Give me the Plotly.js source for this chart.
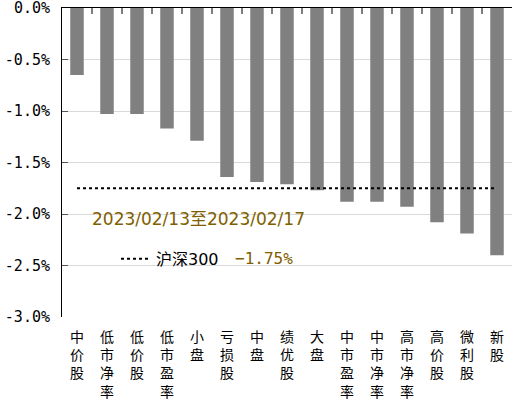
<!DOCTYPE html>
<html>
<head>
<meta charset="utf-8">
<script src="https://cdn.plot.ly/plotly-3.0.1.min.js"></script>
<style>html,body{margin:0;padding:0;background:#fff;}#chart{width:513px;height:406px;}</style>
</head>
<body>
<div id="chart"></div>
<script>
const categories = ["中价股","低市净率","低价股","低市盈率","小盘","亏损股","中盘","绩优股","大盘","中市盈率","中市净率","高市净率","高价股","微利股","新股"];
const weeklyReturn = [-0.65,-1.03,-1.03,-1.17,-1.29,-1.64,-1.69,-1.71,-1.77,-1.88,-1.88,-1.93,-2.08,-2.19,-2.40];
const benchmarkName = "沪深300";
const benchmarkValue = -1.75;
const periodLabel = "2023/02/13至2023/02/17";
const yTicks = [0,-0.5,-1.0,-1.5,-2.0,-2.5,-3.0];
const yTickText = ["0.0%","-0.5%","-1.0%","-1.5%","-2.0%","-2.5%","-3.0%"];

const verticalLabels = categories.map(c => c.split('').join('<br>'));
const olive = '#7f6000';

const traces = [
  {
    type: 'bar', x: categories, y: weeklyReturn,
    marker: {color: '#808080', line: {width: 0}},
    width: 0.45, showlegend: false, hoverinfo: 'skip'
  },
  {
    type: 'scatter', mode: 'lines', xaxis: 'x2', yaxis: 'y',
    x: [0, categories.length - 1], y: [benchmarkValue, benchmarkValue],
    line: {color: '#000', width: 2, dash: 'dot'},
    name: benchmarkName, showlegend: true, hoverinfo: 'skip'
  }
];

// category boundary tick marks crossing the zero (top) axis line
const boundaryTicks = [];
for (let i = 1; i < categories.length; i++) {
  boundaryTicks.push({
    type: 'line', xref: 'x2', yref: 'y', ysizemode: 'pixel', yanchor: 0,
    x0: i - 0.5, x1: i - 0.5, y0: -6, y1: 5,
    line: {color: '#000', width: 1}, layer: 'above'
  });
}

const layout = {
  width: 513, height: 406,
  margin: {l: 62, r: 1, t: 8, b: 89},
  paper_bgcolor: '#fff', plot_bgcolor: '#fff',
  font: {family: 'DejaVu Sans Mono, monospace', size: 14, color: '#000'},
  xaxis: {
    type: 'category', tickmode: 'array', tickvals: categories, ticktext: verticalLabels,
    range: [-0.5, categories.length - 0.5],
    showline: false, ticks: '', showgrid: false, zeroline: false,
    tickfont: {family: 'Noto Sans CJK SC', size: 14, color: '#000'},
    tickangle: 0, ticklabelstandoff: 10
  },
  xaxis2: {
    overlaying: 'x', side: 'top', anchor: 'y', type: 'linear',
    range: [-0.5, categories.length - 0.5],
    showticklabels: false, ticks: '',
    showline: true, linecolor: '#000', linewidth: 1,
    showgrid: false, zeroline: false
  },
  yaxis: {
    range: [-3.0, 0], tickmode: 'array', tickvals: yTicks, ticktext: yTickText,
    showline: true, linecolor: '#000', linewidth: 1,
    ticks: 'inside', ticklen: 6, tickcolor: '#555',
    showgrid: true, gridcolor: '#d9d9d9', gridwidth: 1,
    zeroline: false,
    tickfont: {family: 'DejaVu Sans Mono', size: 15, color: '#000'},
    ticklabelstandoff: 8, ticklabeloverflow: 'allow'
  },
  shapes: boundaryTicks,
  showlegend: true,
  legend: {
    x: 0.12, xanchor: 'left', y: 0.188, yanchor: 'middle',
    bgcolor: 'rgba(0,0,0,0)', borderwidth: 0,
    font: {family: 'DejaVu Sans, Noto Sans CJK SC', size: 16, color: '#000'}
  },
  annotations: [
    {
      xref: 'paper', yref: 'y', x: 0.062, y: -2.05, xanchor: 'left', yanchor: 'middle',
      text: periodLabel, showarrow: false,
      font: {family: 'DejaVu Sans, Noto Sans CJK SC', size: 17, color: olive}
    },
    {
      xref: 'paper', yref: 'paper', x: 0.38, y: 0.188, xanchor: 'left', yanchor: 'middle',
      text: (benchmarkValue < 0 ? '\u2212' : '') + Math.abs(benchmarkValue).toFixed(2) + '%', showarrow: false,
      font: {family: 'DejaVu Sans Mono', size: 16, color: olive}
    }
  ]
};

Plotly.newPlot('chart', traces, layout, {displayModeBar: false, staticPlot: true});
</script>
</body>
</html>
